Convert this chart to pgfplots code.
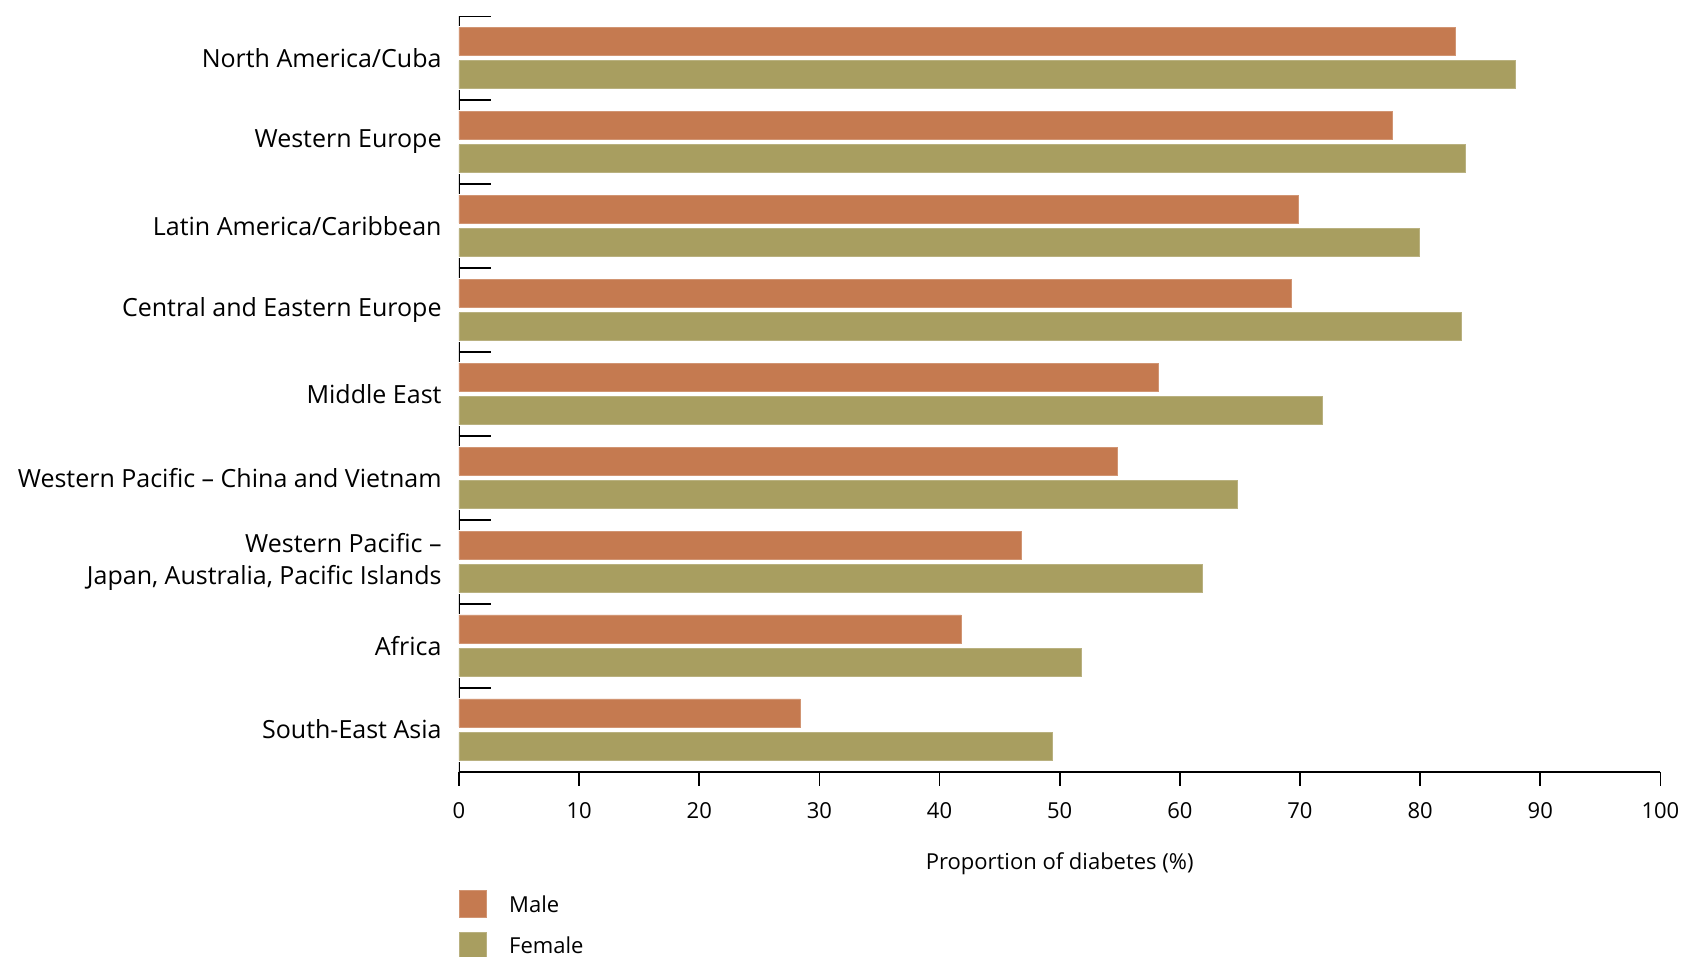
\documentclass[border=0pt]{standalone}
\usepackage{pgfplots}
\pgfplotsset{compat=1.18}
\usepackage{fontspec}
\setmainfont{Open Sans}
\definecolor{male}{RGB}{197,122,80}
\definecolor{female}{RGB}{168,158,96}
\begin{document}
\begin{tikzpicture}
\begin{axis}[
  at={(0,0)}, anchor=south west,
  scale only axis, width=600.7pt, height=377.8pt,
  xbar, bar width=14pt,
  xmin=0, xmax=100, ymin=-0.5, ymax=8.5,
  axis x line*=bottom, axis y line*=left,
  y axis line style={draw=none},
  x axis line style={line width=1.1pt, -},
  xtick={0,10,...,100},
  tick align=outside,
  x tick style={line width=0.9pt, black},
  major tick length=7pt,
  ytick={0,1,...,8},
  y tick style={draw=none},
  yticklabels={South-East Asia, Africa, {Western Pacific --\\Japan, Australia, Pacific Islands}, {Western Pacific -- China and Vietnam}, Middle East, Central and Eastern Europe, Latin America/Caribbean, Western Europe, North America/Cuba},
  yticklabel style={align=right, font=\fontsize{12.5}{16}\selectfont, xshift=1.8pt},
  xticklabel style={font=\fontsize{11}{13}\selectfont, yshift=-5pt},
  /pgf/number format/assume math mode=true,
  xlabel={Proportion of diabetes (\%)},
  xlabel style={font=\fontsize{11}{13}\selectfont, yshift=-10pt},
  legend style={at={(axis description cs:0,-0.156)}, anchor=north west, draw=none, fill=none, inner sep=0pt, row sep=7pt, font=\fontsize{11}{13}\selectfont, nodes={inner sep=0pt, text depth=0pt}, column sep=11pt},
  legend cell align=left,
  legend image code/.code={\fill[#1] (0pt,-6.75pt) rectangle (13.5pt,6.75pt);},
]
\addplot[fill=male, draw=male!80!white, bar shift=8.35pt] coordinates {
 (28.4,0) (41.8,1) (46.8,2) (54.8,3) (58.2,4) (69.3,5) (69.9,6) (77.7,7) (82.9,8)};
\addplot[fill=female, draw=female!80!white, bar shift=-8.35pt] coordinates {
 (49.4,0) (51.8,1) (61.9,2) (64.8,3) (71.9,4) (83.4,5) (79.9,6) (83.8,7) (87.9,8)};
\legend{Male, Female}
\pgfplotsinvokeforeach{-0.5,0.5,...,8.5}{
  \draw[black, line width=1pt] (axis cs:0,#1) -- (axis cs:2.7,#1);
}
\pgfplotsinvokeforeach{0.5,1.5,...,7.5}{
  \draw[black, line width=1pt] ([yshift=-5pt]axis cs:0,#1) -- ([yshift=5pt]axis cs:0,#1);
}
\draw[black, line width=1pt] (axis cs:0,8.5) -- ([yshift=-5pt]axis cs:0,8.5);
\draw[black, line width=1pt] (axis cs:0,-0.5) -- ([yshift=5pt]axis cs:0,-0.5);
\end{axis}
\pgfresetboundingbox
\useasboundingbox (-229.5pt,-92.7pt) rectangle (613pt,385.8pt);
\end{tikzpicture}
\end{document}
